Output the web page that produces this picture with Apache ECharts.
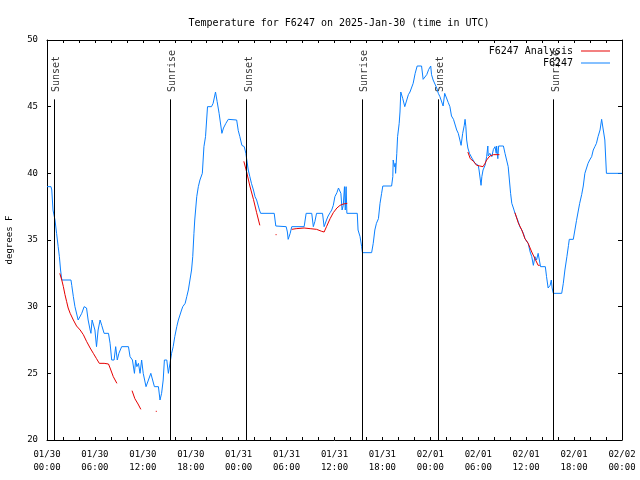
<!DOCTYPE html>
<html>
<head>
<meta charset="utf-8">
<script src="https://cdn.jsdelivr.net/npm/echarts@6/dist/echarts.min.js"></script>
<style>
html,body{margin:0;padding:0;background:#fff;}
#chart{width:640px;height:480px;}
</style>
</head>
<body>
<div id="chart"></div>
<script>
// Hours since 2025-01-30 00:00 UTC
var xTickDates = ['01/30','01/30','01/30','01/30','01/31','01/31','01/31','01/31','02/01','02/01','02/01','02/01','02/02'];
var xTickTimes = ['00:00','06:00','12:00','18:00','00:00','06:00','12:00','18:00','00:00','06:00','12:00','18:00','00:00'];

var sunHours = [0.91, 15.44, 24.98, 39.48, 49.0, 63.45];
var sunNames = ['Sunset','Sunrise','Sunset','Sunrise','Sunset','Sunrise'];

var obsHours = [0.0,0.5,0.6,0.75,1.0,1.2,1.4,1.55,1.7,1.85,3.0,3.1,3.3,3.5,3.7,3.9,4.1,4.35,4.65,4.95,5.15,5.4,5.5,5.65,5.9,6.0,6.2,6.4,6.65,6.85,7.15,7.7,7.9,8.1,8.4,8.6,8.8,9.0,9.35,10.2,10.4,10.7,10.95,11.1,11.25,11.45,11.65,11.85,12.05,12.4,12.7,13.0,13.2,13.45,13.95,14.15,14.35,14.55,14.7,15.0,15.2,15.4,15.6,15.8,16.0,16.25,16.45,16.65,16.85,17.0,17.3,17.5,17.7,17.9,18.1,18.25,18.4,18.5,18.75,18.95,19.15,19.45,19.65,19.85,20.1,20.6,20.8,21.1,21.3,21.55,21.9,22.1,22.4,22.7,23.75,23.95,24.15,24.4,24.7,24.9,25.2,25.4,25.6,25.85,26.05,26.25,26.45,26.6,26.75,28.45,28.65,29.95,30.1,30.2,30.45,30.65,32.2,32.45,33.15,33.35,33.55,33.75,34.5,34.7,35.0,35.2,35.45,35.65,35.85,36.05,36.3,36.5,36.6,36.8,36.95,37.1,37.25,37.35,37.45,37.55,38.85,38.95,39.2,39.4,39.5,40.65,40.85,41.05,41.25,41.5,41.7,41.9,42.05,43.15,43.3,43.35,43.5,43.6,43.65,43.8,43.9,44.1,44.2,44.3,44.55,44.8,45.05,45.25,45.45,45.65,45.85,46.1,46.35,46.9,47.1,47.3,47.55,47.8,48.05,48.15,48.35,48.6,48.8,49.0,49.2,49.4,49.6,49.8,50.05,50.25,50.45,50.65,50.9,51.1,51.3,51.5,51.7,51.85,52.05,52.25,52.35,52.45,52.55,52.7,52.9,53.2,53.4,53.6,53.8,54.0,54.1,54.35,54.45,54.6,54.85,54.95,55.05,55.2,55.25,55.45,55.7,55.9,56.1,56.25,56.3,56.45,56.55,57.15,57.35,57.55,57.75,57.9,58.05,58.2,58.4,58.6,58.8,59.0,59.2,59.45,59.65,59.85,60.05,60.25,60.5,60.7,60.9,61.1,61.3,61.5,61.65,61.8,62.4,62.55,62.75,63.0,63.15,63.25,63.4,64.45,64.65,64.85,65.1,65.3,65.4,65.9,66.1,66.3,66.5,66.7,66.95,67.15,67.35,67.55,67.75,67.95,68.2,68.4,68.6,68.8,69.0,69.25,69.45,69.65,69.85,70.05,72.0];
var obsTemps = [39.0,39.0,38.75,37.25,36.5,35.5,34.5,33.75,32.75,32.0,32.0,31.6,30.75,30.0,30.0,29.0,29.0,29.5,30.0,29.9,29.0,28.25,28.0,29.0,29.0,28.25,27.0,28.25,29.0,28.6,28.0,28.0,27.25,26.0,26.0,27.0,26.0,26.5,27.0,27.0,26.25,26.0,25.0,26.0,25.5,25.75,25.0,26.0,25.0,24.0,24.5,25.0,25.0,24.0,24.0,23.0,23.5,24.5,26.0,26.0,25.0,25.75,26.5,27.0,27.75,28.5,29.0,29.0,29.75,30.0,30.25,30.75,31.25,32.0,32.75,33.75,35.5,36.5,38.25,39.0,39.5,40.0,42.0,42.75,45.0,45.0,45.25,46.1,45.4,44.5,43.0,43.4,43.75,44.05,44.0,43.2,42.75,42.1,42.0,41.5,40.25,39.75,39.25,38.75,38.25,38.0,37.9,37.25,37.0,37.0,36.05,36.0,35.6,35.05,35.5,36.0,36.0,37.0,37.0,36.0,36.4,37.0,37.0,36.0,36.5,36.8,37.05,37.25,37.6,38.25,38.55,38.9,39.0,38.5,37.25,37.6,39.0,37.25,39.0,37.0,37.0,35.75,35.25,34.5,34.05,34.05,34.75,35.75,36.25,36.6,37.75,38.5,39.05,39.05,39.75,41.0,40.5,40.75,40.0,41.5,42.75,43.75,44.6,46.1,45.6,45.0,45.5,45.9,46.1,46.1,46.75,47.5,48.05,48.05,47.05,47.05,47.4,47.8,48.05,47.4,47.0,47.0,46.4,46.0,45.75,45.6,45.05,46.0,46.05,45.3,45.0,44.3,44.05,44.0,43.25,43.0,42.5,42.1,43.0,43.6,44.05,43.5,42.5,41.9,41.5,41.15,41.0,40.75,40.6,40.6,40.25,39.1,39.75,40.25,40.6,40.9,41.25,42.05,41.3,41.5,41.25,41.8,42.0,41.5,42.05,41.1,42.05,42.05,41.5,41.0,40.5,39.5,38.5,37.75,37.4,37.0,36.9,36.4,36.0,35.75,35.5,35.1,35.0,34.75,34.1,33.75,33.1,33.75,33.5,34.0,34.0,33.0,33.0,32.25,31.4,31.6,32.0,31.4,31.0,31.0,31.75,32.75,33.75,34.6,35.05,35.05,35.75,36.45,37.1,37.75,38.4,39.05,40.0,40.05,40.75,41.0,41.25,41.75,42.0,42.25,42.75,43.25,44.05,44.0,42.5,40.0,40.0];

// Analysis series; null marks a gap
var anHours = [1.6,1.85,2.05,2.25,2.45,2.65,2.9,3.3,3.7,4.15,4.55,4.95,5.4,5.8,6.2,6.55,7.15,7.7,7.9,8.3,8.75,9.7,10.65,11.0,11.4,11.75,12.7,13.62,13.75,20.0,24.65,25.0,25.4,25.85,26.25,26.65,27.6,28.62,28.75,29.7,30.65,31.2,32.2,32.95,33.75,34.4,34.7,35.0,35.45,35.85,36.3,36.7,37.1,37.6,45.0,52.7,53.0,53.4,53.8,54.2,54.6,54.85,55.05,55.45,55.9,56.65,57.6,58.6,59.0,59.45,59.85,60.25,60.7,61.1,61.5,61.7];
var anTemps = [32.5,32.0,31.5,30.9,30.4,29.9,29.5,29.0,28.55,28.25,27.9,27.4,26.9,26.5,26.1,25.75,25.75,25.7,25.4,24.75,24.25,null,23.7,23.1,22.7,22.3,null,22.15,22.15,null,40.9,40.1,39.05,38.05,37.05,36.1,null,35.4,35.4,null,35.8,35.85,35.9,35.85,35.8,35.65,35.6,36.0,36.6,37.05,37.4,37.6,37.7,37.75,null,41.6,41.1,40.9,40.6,40.55,40.5,40.75,41.0,41.3,41.4,41.4,null,37.05,36.3,35.75,35.1,34.75,34.1,33.6,33.1,33.1];

var yMin = 20, yMax = 50, yStep = 5;
var sunLineTop = 45.55, sunLabelBase = 46.1;

var MONO = '"DejaVu Sans Mono", "Liberation Mono", monospace';

var chart = echarts.init(document.getElementById('chart'), null, {renderer: 'canvas'});

var obsData = obsHours.map(function (h, i) { return [h, obsTemps[i]]; });
var anData = anHours.map(function (h, i) { return [h, anTemps[i] === null ? '-' : anTemps[i]]; });

var xCommon = {
  type: 'value', min: 0, max: 72, interval: 2,
  axisLine: {show: true, onZero: false, lineStyle: {color: '#000', width: 1}},
  axisTick: {show: true, inside: true, length: 3, lineStyle: {color: '#000'}},
  splitLine: {show: false}
};
var yCommon = {
  type: 'value', min: yMin, max: yMax, interval: yStep,
  axisLine: {show: true, onZero: false, lineStyle: {color: '#000', width: 1}},
  axisTick: {show: true, inside: true, length: 4, lineStyle: {color: '#000'}},
  splitLine: {show: false}
};

var option = {
  backgroundColor: '#fff',
  animation: false,
  title: {
    text: 'Temperature for F6247 on 2025-Jan-30 (time in UTC)',
    left: 334, top: 13, textAlign: 'center',
    textStyle: {fontFamily: MONO, fontSize: 10, fontWeight: 'normal', color: '#000'}
  },
  legend: {
    data: ['F6247 Analysis', 'F6247'],
    orient: 'vertical', right: 25, top: 40, align: 'right',
    icon: 'rect', itemWidth: 29, itemHeight: 1, itemGap: 0,
    textStyle: {fontFamily: MONO, fontSize: 10, color: '#000', lineHeight: 12, padding: [0, 3, 0, 0]}
  },
  grid: {left: 47, right: 18, top: 40, bottom: 40, containLabel: false, outerBoundsMode: 'none'},
  xAxis: [
    Object.assign({}, xCommon, {
      position: 'bottom',
      axisLabel: {
        show: true, margin: 8, lineHeight: 13, fontFamily: MONO, fontSize: 9, color: '#000',
        showMinLabel: true, showMaxLabel: true,
        formatter: function (v) {
          if (Math.round(v) % 6 !== 0) return '';
          var i = Math.round(v) / 6;
          return xTickDates[i] + '\n' + xTickTimes[i];
        }
      }
    }),
    Object.assign({}, xCommon, {position: 'top', axisLabel: {show: false}})
  ],
  yAxis: [
    Object.assign({}, yCommon, {
      position: 'left',
      name: 'degrees F', nameLocation: 'middle', nameGap: 33, nameRotate: 90,
      nameTextStyle: {fontFamily: MONO, fontSize: 9, color: '#000'},
      axisLabel: {show: true, margin: 9, fontFamily: MONO, fontSize: 9, color: '#000'}
    }),
    Object.assign({}, yCommon, {position: 'right', axisLabel: {show: false}})
  ],
  series: [
    {
      name: 'sun', type: 'scatter', xAxisIndex: 0, yAxisIndex: 0,
      symbolSize: 0, silent: true, z: 1,
      data: sunHours.map(function (h, i) { return {value: [h, sunLabelBase], name: sunNames[i]}; }),
      label: {
        show: true, formatter: function (p) { return p.name; },
        position: [2.5, 0], rotate: 90, align: 'left', verticalAlign: 'middle',
        fontFamily: MONO, fontSize: 10, color: '#000'
      },
      markLine: {
        silent: true, symbol: 'none', animation: false,
        lineStyle: {color: '#000', width: 1, type: 'solid'},
        label: {show: false},
        data: sunHours.map(function (h) { return [{coord: [h, yMin]}, {coord: [h, sunLineTop]}]; })
      }
    },
    {
      name: 'F6247 Analysis', type: 'line', data: anData,
      showSymbol: false, symbol: 'none', connectNulls: false, z: 3,
      lineStyle: {color: '#e60000', width: 1}, itemStyle: {color: '#e60000'}
    },
    {
      name: 'F6247', type: 'line', data: obsData,
      showSymbol: false, symbol: 'none', z: 2,
      lineStyle: {color: '#0a80ff', width: 1}, itemStyle: {color: '#0a80ff'}
    }
  ]
};
chart.setOption(option);
</script>
</body>
</html>
